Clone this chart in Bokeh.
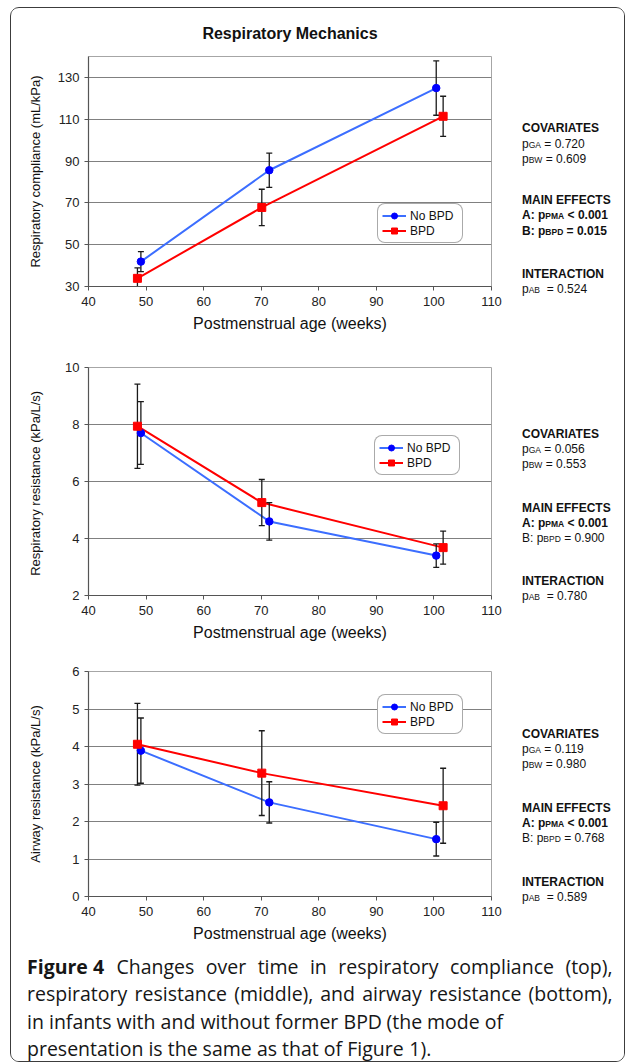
from bokeh.plotting import figure
from bokeh.layouts import column, row
from bokeh.models import Range1d, FixedTicker, Legend, LegendItem
from bokeh.core.properties import value
from bokeh.embed import file_html
from bokeh.resources import INLINE

# ---------------- data ----------------
week_ticks = [40, 50, 60, 70, 80, 90, 100, 110]
pma_no_bpd = [49.1, 71.4, 100.4]
pma_bpd = [48.5, 70.1, 101.6]

compliance_no_bpd = [41.9, 85.6, 124.9]
compliance_no_bpd_err = [4.8, 8.2, 13.0]
compliance_bpd = [33.9, 67.8, 111.4]
compliance_bpd_err = [5.0, 8.7, 9.6]
compliance_ticks = [30, 50, 70, 90, 110, 130]

resistance_no_bpd = [7.70, 4.60, 3.40]
resistance_no_bpd_err = [1.10, 0.66, 0.41]
resistance_bpd = [7.94, 5.26, 3.68]
resistance_bpd_err = [1.48, 0.81, 0.58]
resistance_ticks = [2, 4, 6, 8, 10]

airway_no_bpd = [3.89, 2.51, 1.53]
airway_no_bpd_err = [0.87, 0.55, 0.45]
airway_bpd = [4.06, 3.29, 2.42]
airway_bpd_err = [1.09, 1.13, 1.00]
airway_ticks = [0, 1, 2, 3, 4, 5, 6]

series_names = ["No BPD", "BPD"]

p_ga = ["0.720", "0.056", "0.119"]
p_bw = ["0.609", "0.553", "0.980"]
p_pma = ["< 0.001", "< 0.001", "< 0.001"]
p_bpd = ["= 0.015", "= 0.900", "= 0.768"]
p_bpd_bold = [True, False, False]
p_ab = ["0.524", "0.780", "0.589"]

caption_bold = "Figure 4"
caption_lines = [
    "Changes over time in respiratory compliance (top),",
    "respiratory resistance (middle), and airway resistance (bottom),",
    "in infants with and without former BPD (the mode of",
    "presentation is the same as that of Figure 1).",
]

# ---------------- style ----------------
FONT = "Liberation Sans"
CAP_FONT = "Open Sans"
BLUE_LINE = "#3c6eff"
BLUE = "#0000ff"
RED = "#ff0000"
ERR = "#1a1a1a"
CHART_W = 500
NOTE_W = 113
FRAME_L, FRAME_W = 77, 403
ORIGIN_X, ORIGIN_Y = 11.5, 8.5      # page position of the layout content

AR_REG = {' ': 278, '.': 278, ':': 278, '=': 584, '<': 584, 'A': 667, 'B': 667, 'D': 722,
          'G': 778, 'M': 833, 'P': 667, 'W': 944, 'p': 556}
AR_BOLD = {' ': 278, '.': 278, ':': 333, '=': 584, '<': 584, 'A': 722, 'B': 722, 'D': 722,
           'G': 778, 'M': 833, 'P': 667, 'W': 944, 'p': 611}
OS_REG = {' ': 260, 'a': 556, 'b': 613, 'c': 476, 'd': 613, 'e': 561, 'f': 339, 'g': 548,
          'h': 614, 'i': 253, 'l': 253, 'm': 930, 'n': 614, 'o': 604, 'p': 613, 'r': 408,
          's': 477, 't': 353, 'u': 614, 'v': 501, 'w': 778, 'y': 502, '(': 285, ')': 285,
          ',': 250, '.': 266, 'B': 635, 'C': 631, 'D': 722, 'F': 539, 'P': 588, '1': 572}


def tw(s, size, bold):
    tab = AR_BOLD if bold else AR_REG
    return sum(tab.get(c, 556) for c in s) * size / 1000.0


def blank_fig(w, h):
    f = figure(width=w, height=h, x_range=Range1d(0, w), y_range=Range1d(h, 0),
               x_axis_type=None, y_axis_type=None, output_backend="svg", toolbar_location=None,
               min_border_left=0, min_border_right=0, min_border_top=0, min_border_bottom=0,
               outline_line_color=None, background_fill_color="white", border_fill_color="white")
    return f


def make_chart(title, ylabel, yrange, yticks, grid_ticks, no_y, no_e, b_y, b_e,
               height, top, frame_h, ylabel_standoff, legend_xy):
    p = figure(width=CHART_W, height=height, x_range=Range1d(40, 110), y_range=Range1d(*yrange),
               output_backend="svg", toolbar_location=None,
               min_border_left=FRAME_L, min_border_right=CHART_W - FRAME_L - FRAME_W,
               min_border_top=top, min_border_bottom=height - top - frame_h,
               background_fill_color="white", border_fill_color="white",
               outline_line_color="#a6a6a6", outline_line_width=1)
    if title:
        p.title.text = title
        p.title.align = "center"
        p.title.text_font = FONT
        p.title.text_font_size = "16px"
        p.title.text_font_style = "bold"
        p.title.text_color = "#111111"
        p.title.standoff = 29
    p.xaxis.ticker = FixedTicker(ticks=week_ticks)
    p.yaxis.ticker = FixedTicker(ticks=yticks)
    p.xgrid.visible = False
    p.ygrid.ticker = FixedTicker(ticks=grid_ticks)
    p.ygrid.grid_line_color = "#808080"
    p.ygrid.grid_line_width = 1
    for ax in (p.xaxis[0], p.yaxis[0]):
        ax.axis_line_color = "#555555"
        ax.axis_line_width = 1.2
        ax.major_tick_line_color = "#555555"
        ax.major_tick_out = 4
        ax.major_tick_in = 0
        ax.minor_tick_out = 0
        ax.minor_tick_in = 0
        ax.major_label_text_font = FONT
        ax.major_label_text_font_size = "13px"
        ax.major_label_text_color = "#222222"
        ax.axis_label_text_font = FONT
        ax.axis_label_text_font_style = "normal"
        ax.axis_label_text_color = "#111111"
    p.xaxis.axis_label = "Postmenstrual age (weeks)"
    p.xaxis.axis_label_text_font_size = "16px"
    p.xaxis.major_label_standoff = 6
    p.xaxis.axis_label_standoff = 6
    p.yaxis.axis_label = ylabel
    p.yaxis.axis_label_text_font_size = "13px"
    p.yaxis.major_label_standoff = 5
    p.yaxis.axis_label_standoff = ylabel_standoff

    l1 = p.line(pma_no_bpd, no_y, line_color=BLUE_LINE, line_width=2)
    l2 = p.line(pma_bpd, b_y, line_color=RED, line_width=2)
    for xs, ys, es in ((pma_no_bpd, no_y, no_e), (pma_bpd, b_y, b_e)):
        lo = [y - e for y, e in zip(ys, es)]
        hi = [y + e for y, e in zip(ys, es)]
        p.segment(xs, lo, xs, hi, line_color=ERR, line_width=1.3)
        p.scatter(xs + xs, lo + hi, marker="dash", size=6, line_color=ERR, line_width=1.3)
    m1 = p.scatter(pma_no_bpd, no_y, marker="circle", size=7.5, fill_color=BLUE, line_color=BLUE)
    m2 = p.scatter(pma_bpd, b_y, marker="square", size=8, fill_color=RED, line_color=RED)

    legend = Legend(items=[LegendItem(label=series_names[0], renderers=[l1, m1]),
                           LegendItem(label=series_names[1], renderers=[l2, m2])],
                    location=legend_xy, margin=0, padding=4, spacing=0,
                    glyph_width=24, glyph_height=15, label_height=15, label_standoff=4,
                    label_width=48,
                    label_text_font=FONT, label_text_font_size="12px", label_text_color="#111111",
                    border_line_color="#555555", border_line_width=1,
                    background_fill_color="white", background_fill_alpha=1)
    if "border_radius" in Legend.properties():
        legend.border_radius = 8
    p.add_layout(legend)
    return p


def make_notes(idx, height, fig_top, header_y, step):
    t = blank_fig(NOTE_W, height)
    left = ORIGIN_X + CHART_W
    groups = {}

    def add(x, y, s, bold, size):
        g = groups.setdefault((bold, size), {"x": [], "y": [], "t": []})
        g["x"].append(x - left)
        g["y"].append(y - fig_top)
        g["t"].append(s)

    MAIN, SUB = 12, 8.5
    x_start = 522.0

    def line(yc, pieces, bold):
        x = x_start
        base = yc + 2.5
        for s, sub in pieces:
            size = SUB if sub else MAIN
            stripped = s.lstrip(" ")
            x += tw(s[:len(s) - len(stripped)], size, bold)
            add(x, base + (1 if sub else 0), stripped, bold, size)
            x += tw(stripped, size, bold)

    y_cov, y_main, y_int = header_y
    line(y_cov, [("COVARIATES", False)], True)
    line(y_cov + step, [("p", False), ("GA", True), (" = " + p_ga[idx], False)], False)
    line(y_cov + 2 * step, [("p", False), ("BW", True), (" = " + p_bw[idx], False)], False)
    line(y_main, [("MAIN EFFECTS", False)], True)
    line(y_main + step, [("A: p", False), ("PMA", True), (" " + p_pma[idx], False)], True)
    line(y_main + 2 * step, [("B: p", False), ("BPD", True), (" " + p_bpd[idx], False)],
         p_bpd_bold[idx])
    line(y_int, [("INTERACTION", False)], True)
    line(y_int + step, [("p", False), ("AB", True), ("  = " + p_ab[idx], False)], False)

    for (bold, size), g in groups.items():
        t.text(x=g["x"], y=g["y"], text=g["t"], text_font=value(FONT),
               text_font_size=value(f"{size}px"), text_font_style="bold" if bold else "normal",
               text_baseline="alphabetic", text_align="left", text_color="#111111")
    return t


H1, H2, H3 = 333, 315, 290
c1 = make_chart("Respiratory Mechanics", "Respiratory compliance (mL/kPa)", (30, 140),
                compliance_ticks, [50, 70, 90, 110, 130],
                compliance_no_bpd, compliance_no_bpd_err, compliance_bpd, compliance_bpd_err,
                H1, 47, 231, 12, (289, 43))
c2 = make_chart(None, "Respiratory resistance  (kPa/L/s)", (2, 10),
                resistance_ticks, [4, 6, 8],
                resistance_no_bpd, resistance_no_bpd_err, resistance_bpd, resistance_bpd_err,
                H2, 26, 228, 19, (286, 120))
c3 = make_chart(None, "Airway resistance (kPa/L/s)", (0, 6),
                airway_ticks, [1, 2, 3, 4, 5],
                airway_no_bpd, airway_no_bpd_err, airway_bpd, airway_bpd_err,
                H3, 15, 225, 26, (289, 162))

n1 = make_notes(0, H1, ORIGIN_Y, [125.7, 197.3, 271.0], 15.5)
n2 = make_notes(1, H2, ORIGIN_Y + H1, [431.0, 505.0, 578.3], 15)
n3 = make_notes(2, H3, ORIGIN_Y + H1 + H2, [731.7, 805.7, 879.0], 15)

# ---------------- caption ----------------
CAP_W = CHART_W + NOTE_W
CAP_H = 1053 - H1 - H2 - H3
cap = blank_fig(CAP_W, CAP_H)
CAP_PX = 19.5
cap_left = 27 - ORIGIN_X
cap_right = 612 - ORIGIN_X
cap_y = [19.5, 47.0, 74.5, 101.5]
BOLD_EM = 4.0     # width of the bold lead-in, in em


def ow(s):
    return sum(OS_REG.get(c, 560) for c in s) * CAP_PX / 1000.0


words_x, words_y, words_t = [], [], []
for li, txt in enumerate(caption_lines):
    words = txt.split(" ")
    widths = [ow(w) for w in words]
    lead = [BOLD_EM * CAP_PX] if li == 0 else []
    allw = lead + widths
    if li < 2:
        gap = (cap_right - cap_left - sum(allw)) / (len(allw) - 1)
    else:
        gap = ow(" ")
    x = cap_left + (lead[0] + gap if lead else 0)
    for w, wd in zip(words, widths):
        words_x.append(x)
        words_y.append(cap_y[li])
        words_t.append(w)
        x += wd + gap

cap.text(x=[cap_left], y=[cap_y[0]], text=[caption_bold], text_font=value(CAP_FONT),
         text_font_size=value(f"{CAP_PX}px"), text_font_style="bold", text_baseline="middle",
         text_color="#161616")
cap.text(x=words_x, y=words_y, text=words_t, text_font=value(CAP_FONT),
         text_font_size=value(f"{CAP_PX}px"), text_font_style="normal",
         text_baseline="middle", text_align="left", text_color="#161616")

layout = column(row(column(c1), column(n1)),
                row(column(c2), column(n2)),
                row(column(c3), column(n3)),
                column(cap),
                margin=(7, 0, 0, 10),
                styles={"border": "1.5px solid #3c3c3c", "border-radius": "9px",
                        "overflow": "hidden"})

open("out.html", "w").write(file_html(layout, INLINE))
